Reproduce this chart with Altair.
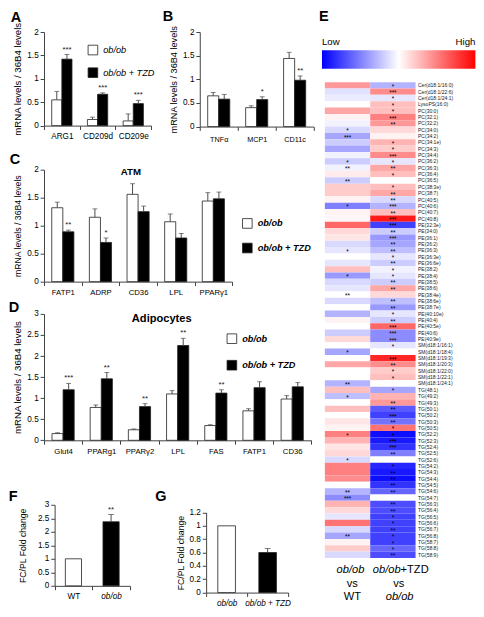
import altair as alt
import pandas as pd

s = 0.965
def P(v):
    return round(v * s, 2)

FONT = "Liberation Sans"
SERIES = ["ob/ob", "ob/ob + TZD"]
EC = "#4d4d4d"

# ---------------- Panel A ----------------
genesA = ["ARG1", "CD209d", "CD209e"]
A_ob = [0.55, 0.13, 0.10]
A_ob_err = [0.18, 0.05, 0.15]
A_tzd = [1.42, 0.67, 0.47]
A_tzd_err = [0.10, 0.03, 0.07]
A_stars = ["***", "***", "***"]

# ---------------- Panel B ----------------
genesB = ["TNFα", "MCP1", "CD11c"]
B_ob = [0.65, 0.40, 1.44]
B_ob_err = [0.07, 0.04, 0.13]
B_tzd = [0.58, 0.57, 0.98]
B_tzd_err = [0.10, 0.06, 0.09]
B_stars = ["", "*", "**"]

# ---------------- Panel C ----------------
genesC = ["FATP1", "ADRP", "CD36", "LPL", "PPARγ1"]
C_ob = [1.32, 1.15, 1.56, 1.07, 1.44]
C_ob_err = [0.10, 0.15, 0.19, 0.14, 0.15]
C_tzd = [0.89, 0.70, 1.25, 0.78, 1.48]
C_tzd_err = [0.03, 0.08, 0.10, 0.08, 0.12]
C_stars = ["**", "*", "", "", ""]

# ---------------- Panel D ----------------
genesD = ["Glut4", "PPARg1", "PPARγ2", "LPL", "FAS", "FATP1", "CD36"]
D_ob = [0.16, 0.78, 0.25, 1.10, 0.35, 0.70, 0.98]
D_ob_err = [0.02, 0.06, 0.02, 0.08, 0.02, 0.05, 0.08]
D_tzd = [1.20, 1.46, 0.80, 2.25, 1.12, 1.25, 1.27]
D_tzd_err = [0.15, 0.15, 0.07, 0.17, 0.08, 0.14, 0.10]
D_stars = ["***", "**", "**", "**", "**", "", ""]

# ---------------- Panel F / G ----------------
F_cats = ["WT", "ob/ob"]
F_vals = [1.0, 2.37]
F_err = [0.0, 0.27]
F_stars = ["", "**"]

G_cats = ["ob/ob", "ob/ob + TZD"]
G_vals = [1.0, 0.60]
G_err = [0.0, 0.06]
G_stars = ["", ""]

# ---------------- Panel E (heatmap) ----------------
comps = ["ob/ob vs WT", "ob/ob+TZD vs ob/ob"]
lipids = [
    "Cer(d18:1/16:0)", "Cer(d18:1/22:6)", "Cer(d18:1/24:1)", "LysoPS(16:0)",
    "PC(30:0)", "PC(32:1)", "PC(32:2)", "PC(34:0)", "PC(34:2)", "PC(34:1e)",
    "PC(34:3)", "PC(34:4)", "PC(36:2)", "PC(36:3)", "PC(36:4)", "PC(36:5)",
    "PC(38:3e)", "PC(38:7)", "PC(40:5)", "PC(40:6)", "PC(40:7)", "PC(40:8)",
    "PE(32:3e)", "PE(34:0)", "PE(36:1)", "PE(36:2)", "PE(36:3)", "PE(36:3e)",
    "PE(36:6e)", "PE(38:2)", "PE(38:4)", "PE(38:5)", "PE(38:6)", "PE(38:4e)",
    "PE(38:6e)", "PE(38:7e)", "PE(40:10e)", "PE(40:4)", "PE(40:5e)", "PE(40:6)",
    "PE(40:9e)", "SM(d18:1/16:1)", "SM(d18:1/18:4)", "SM(d18:1/19:3)",
    "SM(d18:1/20:3)", "SM(d18:1/22:0)", "SM(d18:1/22:1)", "SM(d18:1/24:1)",
    "TG(48:1)", "TG(49:2)", "TG(49:3)", "TG(50:1)", "TG(50:2)", "TG(50:3)",
    "TG(50:5)", "TG(52:2)", "TG(52:3)", "TG(52:4)", "TG(52:5)", "TG(52:6)",
    "TG(54:2)", "TG(54:3)", "TG(54:4)", "TG(54:5)", "TG(54:6)", "TG(54:7)",
    "TG(56:3)", "TG(56:4)", "TG(56:5)", "TG(56:6)", "TG(56:7)", "TG(56:8)",
    "TG(58:7)", "TG(58:8)", "TG(58:9)",
]
wt_vals = [
    0.40, -0.12, -0.08, 0.00, 0.35, 0.05, -0.05, -0.15, -0.35, -0.20,
    -0.35, -0.05, -0.20, -0.05, 0.08, -0.20, 0.20, 0.20, 0.05, -0.50,
    0.05, 0.03, 0.60, 0.15, 0.10, -0.15, -0.10, 0.00, -0.10, 0.25,
    -0.40, -0.15, -0.10, 0.00, -0.15, 0.00, -0.30, 0.05, 0.00, -0.20,
    0.15, 0.00, -0.35, 0.00, 0.35, 0.00, 0.00, -0.30, 0.25, -0.25,
    0.00, 0.25, 0.00, 0.10, 0.05, 0.50, 0.30, 0.10, 0.15, -0.15,
    0.50, 0.50, 0.45, 0.00, -0.30, -0.45, 0.30, 0.15, -0.10, 0.55,
    -0.15, -0.35, 0.05, 0.20, -0.15,
]
tzd_vals = [
    -0.30, 0.45, -0.10, 0.25, 0.25, 0.50, 0.40, 0.15, 0.05, 0.30,
    0.20, 0.45, -0.10, 0.35, 0.25, 0.00, 0.25, 0.35, -0.15, -0.30,
    0.25, 0.90, -0.75, -0.20, -0.40, -0.35, -0.25, -0.10, -0.20, -0.05,
    -0.10, -0.20, 0.35, 0.15, -0.25, -0.40, -0.10, -0.20, 0.60, -0.45,
    -0.45, -0.10, 0.00, 0.85, 0.45, 0.20, 0.25, 0.00, -0.35, 0.30,
    0.40, -0.65, -0.75, -0.55, 0.55, -0.95, -0.90, -0.80, -0.50, 0.00,
    -0.85, -0.90, -0.95, -0.80, -0.60, 0.00, -0.70, -0.70, -0.75, -0.75,
    -0.75, -0.75, -0.75, -0.60, -0.70,
]
wt_stars = [
    "", "", "", "", "", "", "", "*", "***", "",
    "", "", "*", "**", "", "**", "", "", "", "*",
    "", "", "", "", "", "", "*", "", "", "",
    "*", "", "", "**", "", "", "", "", "", "",
    "", "", "*", "", "", "", "", "**", "", "*",
    "", "", "", "", "", "*", "", "", "", "*",
    "", "", "", "", "**", "***", "", "", "", "",
    "", "**", "", "", "",
]
tzd_stars = [
    "*", "***", "*", "*", "*", "***", "**", "", "", "*",
    "*", "***", "*", "**", "*", "", "*", "**", "**", "***",
    "**", "***", "***", "**", "***", "**", "**", "*", "**", "*",
    "*", "**", "**", "", "**", "**", "*", "**", "***", "***",
    "***", "*", "", "***", "**", "*", "*", "", "*", "",
    "**", "**", "***", "**", "*", "*", "***", "***", "**", "",
    "*", "**", "**", "**", "**", "", "**", "**", "*", "*",
    "**", "*", "*", "*", "**",
]


def bar_df(genes, ob, ob_err, tzd, tzd_err, stars):
    rows = []
    for i, g in enumerate(genes):
        rows.append(dict(gene=g, series=SERIES[0], value=ob[i], err=ob_err[i], star=""))
        rows.append(dict(gene=g, series=SERIES[1], value=tzd[i], err=tzd_err[i], star=stars[i]))
    df = pd.DataFrame(rows)
    df["top"] = df["value"] + df["err"]
    return df


def label_layer(text, x, y, size, weight="bold", style="normal", align="center"):
    return alt.Chart(pd.DataFrame({"t": [text]})).mark_text(
        fontSize=size, fontWeight=weight, fontStyle=style, font=FONT,
        align=align, baseline="middle", color="black"
    ).encode(text="t:N", x=alt.value(x), y=alt.value(y))


def grouped_panel(df, genes, W, H, ymax, yticks, po, letter, lpos, ytitle,
                  ytitle_size, xlab_size, legend=None, title=None, tpos=None,
                  title_size=10, xlab_pad=3, ytitle_pad=4):
    def X():
        return alt.X("gene:N", sort=genes, title=None,
                     scale=alt.Scale(paddingInner=0, paddingOuter=0),
                     axis=alt.Axis(labelAngle=0, tickBand="extent",
                                   labelFontSize=P(xlab_size), labelPadding=P(xlab_pad)))

    def XO():
        return alt.XOffset("series:N", sort=SERIES, scale=alt.Scale(paddingOuter=po))

    def Y(field):
        return alt.Y(field, scale=alt.Scale(domain=[0, ymax], nice=False),
                     axis=alt.Axis(values=yticks, title=ytitle, format="~g",
                                   titleFontSize=P(ytitle_size), titlePadding=P(ytitle_pad)))

    base = alt.Chart(df)
    bars = base.mark_bar(stroke="#222", strokeWidth=0.8).encode(
        x=X(), xOffset=XO(), y=Y("value:Q"),
        fill=alt.Fill("series:N", scale=alt.Scale(domain=SERIES, range=["white", "black"]),
                      legend=legend),
    )
    errs = base.transform_filter("datum.err > 0")
    rule = errs.mark_rule(color=EC, strokeWidth=1).encode(
        x=X(), xOffset=XO(), y=Y("value:Q"), y2="top:Q")
    cap = errs.mark_tick(color=EC, thickness=1, size=P(5)).encode(
        x=X(), xOffset=XO(), y=Y("top:Q"))
    star = base.transform_filter("datum.star != ''").mark_text(
        fontSize=P(8), baseline="bottom", dy=-P(1), color="#222", font=FONT
    ).encode(x=X(), xOffset=XO(), y=Y("top:Q"), text="star:N")
    layers = [bars, rule, cap, star,
              label_layer(letter, P(lpos[0]), P(lpos[1]), P(15))]
    if title:
        layers.append(label_layer(title, P(tpos[0]), P(tpos[1]), P(title_size)))
    return alt.layer(*layers).properties(width=P(W), height=P(H))


def single_panel(cats, vals, errs, stars, W, H, xr, yr, ymax, yticks, letter, lpos,
                 label_style, yaxis_offset=0, ytitle_pad=4):
    df = pd.DataFrame({"cat": cats, "value": vals, "err": errs, "star": stars})
    df["top"] = df["value"] + df["err"]

    def X():
        return alt.X("cat:N", sort=cats, title=None,
                     scale=alt.Scale(paddingInner=0, paddingOuter=0, range=[P(xr[0]), P(xr[1])]),
                     axis=alt.Axis(labelAngle=0, tickBand="extent", labelFontSize=P(8.5),
                                   labelPadding=P(3), labelFontStyle=label_style))

    def Y(field):
        return alt.Y(field, scale=alt.Scale(domain=[0, ymax], nice=False,
                                            range=[P(yr[0]), P(yr[1])]),
                     axis=alt.Axis(values=yticks, title="FC/PL Fold change", format="~g",
                                   titleFontSize=P(9), titlePadding=P(ytitle_pad),
                                   offset=alt.ExprRef(expr=str(-P(yaxis_offset)))))

    base = alt.Chart(df)
    bars = base.mark_bar(stroke="#222", strokeWidth=0.8, width={"band": 0.43}).encode(
        x=X(), y=Y("value:Q"),
        fill=alt.Fill("cat:N", scale=alt.Scale(domain=cats, range=["white", "black"]), legend=None),
    )
    errsd = base.transform_filter("datum.err > 0")
    rule = errsd.mark_rule(color=EC, strokeWidth=1).encode(x=X(), y=Y("value:Q"), y2="top:Q")
    cap = errsd.mark_tick(color=EC, thickness=1, size=P(6)).encode(x=X(), y=Y("top:Q"))
    star = base.transform_filter("datum.star != ''").mark_text(
        fontSize=P(8), baseline="bottom", dy=-P(1), color="#222", font=FONT
    ).encode(x=X(), y=Y("top:Q"), text="star:N")
    return alt.layer(bars, rule, cap, star,
                     label_layer(letter, P(lpos[0]), P(lpos[1]), P(15))).properties(
        width=P(W), height=P(H))


def bar_legend(x, y, row_pad, bold):
    return alt.Legend(orient="none", legendX=P(x), legendY=P(y), title=None,
                      symbolType="square", symbolSize=P(10) ** 2,
                      symbolStrokeColor="#222", symbolStrokeWidth=0.8,
                      labelFontSize=P(9.5), labelFontStyle="italic",
                      labelFontWeight="bold" if bold else "normal",
                      labelFont=FONT, labelColor="black",
                      rowPadding=P(row_pad), labelOffset=P(5))


ticks2 = [0, 0.5, 1, 1.5, 2]
ticks3 = [0, 0.5, 1, 1.5, 2, 2.5, 3]
ticksG = [0, 0.2, 0.4, 0.6, 0.8, 1, 1.2]
YT = "mRNA levels / 36B4 levels"

A = grouped_panel(bar_df(genesA, A_ob, A_ob_err, A_tzd, A_tzd_err, A_stars), genesA,
                  111, 97, 2, ticks2, 0.76, "A", (-29, -15), YT, 10, 8.5,
                  legend=bar_legend(45, 13, 10, False))
B = grouped_panel(bar_df(genesB, B_ob, B_ob_err, B_tzd, B_tzd_err, B_stars), genesB,
                  118, 98, 2, ticks2, 0.72, "B", (-33, -16), YT, 9.5, 7.5,
                  legend=None, xlab_pad=5)
C = grouped_panel(bar_df(genesC, C_ob, C_ob_err, C_tzd, C_tzd_err, C_stars), genesC,
                  195, 116, 2, ticks2, 0.70, "C", (-30, -10), YT, 9, 8,
                  legend=bar_legend(205, 50, 12, True), title="ATM", tpos=(90, 2), title_size=10)
D = grouped_panel(bar_df(genesD, D_ob, D_ob_err, D_tzd, D_tzd_err, D_stars), genesD,
                  277, 131, 3, ticks3, 0.72, "D", (-31, -6), YT, 10, 8,
                  legend=bar_legend(189, 20, 14, True), title="Adipocytes", tpos=(122, 5),
                  title_size=11.5)
F_style = {"condition": {"test": "datum.value == 'WT'", "value": "normal"}, "value": "italic"}
F = single_panel(F_cats, F_vals, F_err, F_stars, 89, 84, (11, 89), (84, 0), 3, ticks3,
                 "F", (-32, -8), F_style, yaxis_offset=11, ytitle_pad=10)
G = single_panel(G_cats, G_vals, G_err, G_stars, 85, 91, (0, 85), (91, 8), 1.2, ticksG,
                 "G", (-47, -8), "italic")

# ---------------- Heatmap E ----------------
hrows = []
for i, lp in enumerate(lipids):
    hrows.append(dict(lipid=lp, comp=comps[0], value=wt_vals[i], star=wt_stars[i]))
    hrows.append(dict(lipid=lp, comp=comps[1], value=tzd_vals[i], star=tzd_stars[i]))
hdf = pd.DataFrame(hrows)

EW, EH = 94, 545   # view spans from the top of panel A to the bottom of the heatmap
E_TOP = 52         # heatmap rows start below the colour bar


def EX():
    return alt.X("comp:N", sort=comps, axis=None,
                 scale=alt.Scale(paddingInner=0, paddingOuter=0))


def EY():
    return alt.Y("lipid:N", sort=lipids, title=None,
                 scale=alt.Scale(paddingInner=0, paddingOuter=0, range=[P(E_TOP), P(EH)]),
                 axis=alt.Axis(orient="right", domain=False, ticks=False, labelFontSize=P(5.2),
                               labelPadding=P(2), labelColor="#222", labelOverlap=False,
                               labelFont=FONT))


heat = alt.Chart(hdf).mark_rect().encode(
    x=EX(), y=EY(),
    color=alt.Color("value:Q",
                    scale=alt.Scale(domain=[-1, 0, 1], range=["#0000ff", "#ffffff", "#ff0000"],
                                    interpolate="rgb"),
                    legend=alt.Legend(orient="none", direction="horizontal",
                                      legendX=P(-3), legendY=P(19),
                                      gradientLength=P(159), gradientThickness=P(19),
                                      gradientStrokeWidth=0, title=None, values=[-1, 1],
                                      labelExpr="datum.value < 0 ? 'Low' : 'High'",
                                      labelOffset=alt.ExprRef(expr=str(-P(33))),
                                      labelFontSize=P(10),
                                      labelFont=FONT, labelColor="black")),
)
hstars = alt.Chart(hdf).transform_filter("datum.star != ''").mark_text(
    fontSize=P(6.5), baseline="middle", dy=P(1.5), color="black", font=FONT
).encode(x=EX(), y=EY(), text="star:N")


def bottom_text(comp, text, line_y, style, align="center", dx=5):
    return alt.Chart(pd.DataFrame({"comp": [comp], "t": [text]})).mark_text(
        fontSize=P(11.5), fontStyle=style, font=FONT, align=align, baseline="middle",
        dx=P(dx), color="black"
    ).encode(x=alt.X("comp:N", sort=comps), text="t:N", y=alt.value(P(line_y)))


E = alt.layer(
    heat, hstars,
    bottom_text(comps[0], "ob/ob", EH + 13, "italic", dx=3),
    bottom_text(comps[1], "ob/ob", EH + 13, "italic", align="right", dx=8),
    bottom_text(comps[1], "+TZD", EH + 13, "normal", align="left", dx=8),
    bottom_text(comps[0], "vs", EH + 27, "normal"),
    bottom_text(comps[1], "vs", EH + 27, "normal", dx=6),
    bottom_text(comps[0], "WT", EH + 40, "normal"),
    bottom_text(comps[1], "ob/ob", EH + 40, "italic", dx=7),
    label_layer("E", P(-1), P(-16), P(15)),
).properties(width=P(EW), height=P(EH))

RES = dict(x="independent", y="independent", fill="independent",
           xOffset="independent", color="independent")

row1 = alt.hconcat(A, B, spacing=P(7)).resolve_scale(**RES)
row4 = alt.hconcat(F, G, spacing=P(25)).resolve_scale(**RES)
v1 = alt.vconcat(row1, C, spacing=P(9)).resolve_scale(**RES)
v2 = alt.vconcat(v1, D, spacing=P(3)).resolve_scale(**RES)
v3 = alt.vconcat(v2, row4, spacing=P(35)).resolve_scale(**RES)
top = alt.hconcat(v3, E, spacing=P(4)).resolve_scale(**RES)

chart = top.properties(padding=0, background="white").configure(font=FONT).configure_view(
    stroke=None
).configure_axis(
    grid=False, labelFont=FONT, titleFont=FONT, labelColor="black", titleColor="black",
    titleFontWeight="normal", domainColor="#444", tickColor="#444", tickSize=P(4),
    labelFontSize=P(8.5), labelPadding=P(2), domainWidth=1
)

chart.save("out.html", embed_options={"renderer": "svg", "actions": False})
